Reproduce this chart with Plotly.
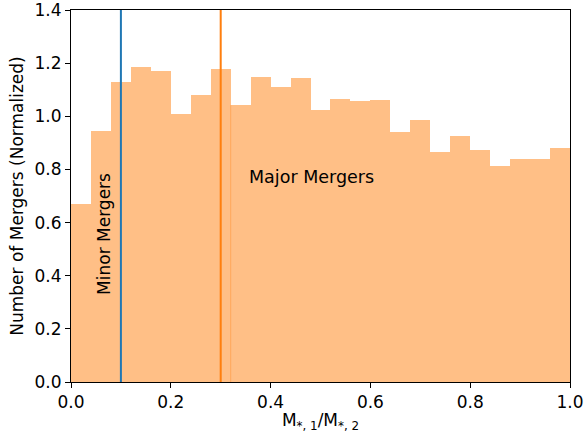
import plotly.graph_objects as go

bin_edges_start = [round(i * 0.04, 2) for i in range(25)]
bin_width = 0.04
counts = [0.670, 0.945, 1.129, 1.185, 1.170, 1.009, 1.080, 1.178, 1.042, 1.148,
          1.110, 1.144, 1.024, 1.065, 1.057, 1.061, 0.941, 0.986, 0.865, 0.926,
          0.873, 0.813, 0.839, 0.839, 0.882]
minor_cut = 0.1
major_cut = 0.3
seam = 0.32
x_ticks = [0.0, 0.2, 0.4, 0.6, 0.8, 1.0]
y_ticks = [0.0, 0.2, 0.4, 0.6, 0.8, 1.0, 1.2, 1.4]

centers = [s + bin_width / 2 for s in bin_edges_start]

fig = go.Figure()
fig.add_trace(go.Bar(x=centers, y=counts, width=bin_width,
                     marker=dict(color="rgba(255,127,14,0.5)", line=dict(width=0)),
                     showlegend=False, hoverinfo="skip"))
fig.add_trace(go.Scatter(x=[seam, seam], y=[0, counts[8]], mode="lines",
                         line=dict(color="rgba(255,127,14,0.35)", width=1),
                         showlegend=False))
fig.add_trace(go.Scatter(x=[minor_cut, minor_cut], y=[0, 1.4], mode="lines",
                         line=dict(color="#1f77b4", width=2), showlegend=False))
fig.add_trace(go.Scatter(x=[major_cut, major_cut], y=[0, 1.4], mode="lines",
                         line=dict(color="#ff7f0e", width=2), showlegend=False))

fig.add_annotation(x=0.066, y=0.557, text="Minor Mergers", textangle=-90,
                   showarrow=False, font=dict(size=17, color="black"))
fig.add_annotation(x=0.352, y=0.771, text="Major Mergers", xanchor="left",
                   showarrow=False, font=dict(size=17.5, color="black"))

axis_common = dict(showline=True, linecolor="black", linewidth=1, mirror=True,
                   ticks="outside", ticklen=5, tickcolor="black", showgrid=False,
                   zeroline=False, automargin=False, ticklabeloverflow="allow",
                   tickfont=dict(size=17, color="black"))

fig.update_xaxes(range=[0, 1], tickvals=x_ticks, tickformat=".1f",
                 title=dict(text="M<sub>*, 1</sub>/M<sub>*, 2</sub>",
                            font=dict(size=17, color="black"), standoff=4),
                 **axis_common)
fig.update_yaxes(range=[0, 1.4], tickvals=y_ticks, tickformat=".1f",
                 title=dict(text="Number of Mergers (Normalized)",
                            font=dict(size=17, color="black"), standoff=6),
                 **axis_common)

fig.update_layout(width=585, height=433, margin=dict(l=71, r=15, t=10, b=51),
                  bargap=0, plot_bgcolor="white", paper_bgcolor="white",
                  font=dict(family="DejaVu Sans", color="black"))

fig.write_html("out.html")
